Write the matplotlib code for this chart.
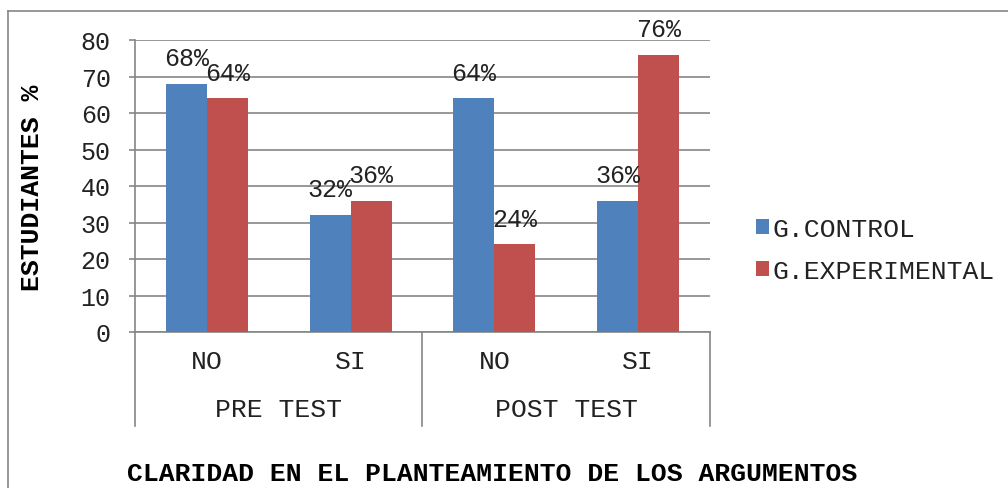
import matplotlib
matplotlib.use("Agg")
import matplotlib.pyplot as plt
from matplotlib.lines import Line2D
import numpy as np

subcats = ["NO", "SI", "NO", "SI"]
groups = ["PRE TEST", "POST TEST"]
control = [68, 32, 64, 36]
experimental = [64, 36, 24, 76]
series_names = ["G.CONTROL", "G.EXPERIMENTAL"]
yticks = [0, 10, 20, 30, 40, 50, 60, 70, 80]

BLUE = "#4F81BD"
RED = "#C0504D"
GRID = "#868686"
FONT = "Liberation Mono"
TXT = "#222222"

fig = plt.figure(figsize=(10.08, 4.89), dpi=100)
ax = fig.add_axes([135/1008, 1-333/489, (710-135)/1008, (333-41)/489])

x = np.arange(len(subcats))
w = 0.285
b1 = ax.bar(x - w/2, control, w, color=BLUE, label=series_names[0], zorder=3)
b2 = ax.bar(x + w/2, experimental, w, color=RED, label=series_names[1], zorder=3)

for bars, vals in ((b1, control), (b2, experimental)):
    for r, v in zip(bars, vals):
        ax.annotate(f"{v}%", (r.get_x() + r.get_width()/2, v), xytext=(0, 10),
                    textcoords="offset points", ha="center", va="bottom",
                    fontsize=18, family=FONT, color=TXT, zorder=4)

ax.set_xlim(-0.5, len(subcats) - 0.5)
ax.set_ylim(0, 80)
ax.set_yticks(yticks)
ax.set_yticklabels([str(t) for t in yticks], family=FONT, fontsize=18, color=TXT)
ax.set_xticks([])
ax.yaxis.grid(True, color=GRID, linewidth=1.2, zorder=0)
ax.tick_params(axis="y", length=4.5, color=GRID, width=1.2, pad=13)
for s in ("top", "right"):
    ax.spines[s].set_visible(False)
for s in ("left", "bottom"):
    ax.spines[s].set_color(GRID)
    ax.spines[s].set_linewidth(1.2)

# category axis labels and separators
ydrop = -(427-333)/(333-41)
for xs in (0, 0.5, 1.0):
    ax.add_line(Line2D([xs, xs], [0, ydrop], transform=ax.transAxes, color=GRID,
                       linewidth=1.2, clip_on=False))
trans = ax.get_xaxis_transform()
for i, lab in enumerate(subcats):
    ax.text(i, -(362-333)/(333-41), lab, transform=trans, ha="center", va="center",
            family=FONT, fontsize=19, color=TXT)
for j, g in enumerate(groups):
    ax.text(0.25 + 0.5*j, -(410-333)/(333-41), g, transform=ax.transAxes, ha="center",
            va="center", family=FONT, fontsize=19, color=TXT)

fig.text(32/1008, 1-188/489, "ESTUDIANTES %", rotation=90, ha="center", va="center",
         family=FONT, fontsize=19, fontweight="bold", color="black")
fig.text(492/1008, 1-474/489, "CLARIDAD EN EL PLANTEAMIENTO DE LOS ARGUMENTOS",
         ha="center", va="center", family=FONT, fontsize=19, fontweight="bold", color="black")

leg = fig.legend(handles=[b1, b2], labels=series_names, loc="center left",
                 bbox_to_anchor=(732/1008, 1-251/489), frameon=False,
                 prop={"family": FONT, "size": 19}, handlelength=0.5, handleheight=0.5,
                 handletextpad=0.15, labelspacing=0.7)
for t in leg.get_texts():
    t.set_color(TXT)

# outer chart frame
fig.add_artist(Line2D([8/1008, 8/1008], [0, 1-12/489], transform=fig.transFigure,
                      color=GRID, linewidth=1.2))
fig.add_artist(Line2D([8/1008, 1], [1-12/489, 1-12/489], transform=fig.transFigure,
                      color=GRID, linewidth=1.2))

fig.savefig("out.png", dpi=100)
